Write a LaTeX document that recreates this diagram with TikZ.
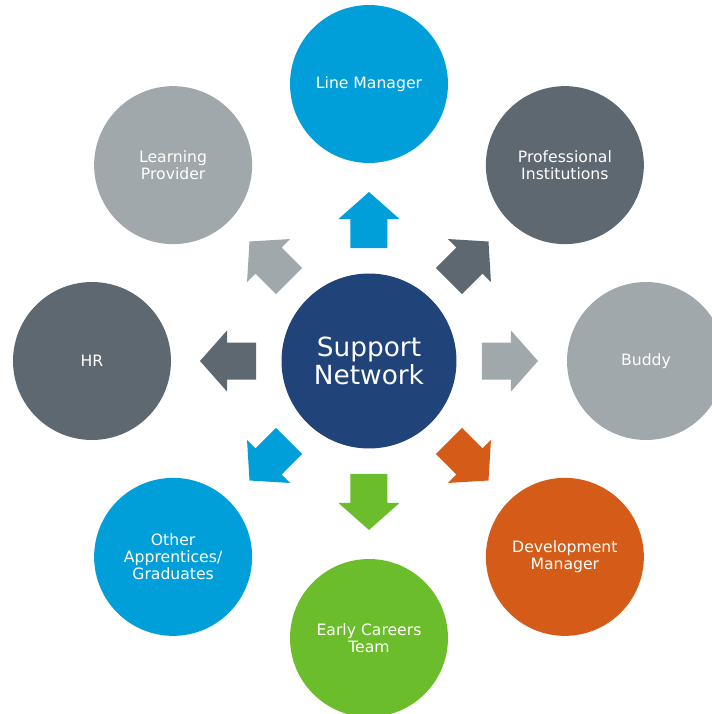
\documentclass[tikz,border=0pt]{standalone}
\usepackage{fontspec}
\setsansfont{DejaVu Sans}
\usetikzlibrary{calc}
\definecolor{netblue}{RGB}{0,159,218}
\definecolor{netdark}{RGB}{94,104,112}
\definecolor{netlight}{RGB}{161,168,171}
\definecolor{netorange}{RGB}{212,92,24}
\definecolor{netgreen}{RGB}{108,189,43}
\definecolor{netnavy}{RGB}{32,67,122}
\tikzset{
spoke/.style={circle,minimum size=3.16cm,inner sep=0pt,text=white,align=center,
font=\sffamily\fontsize{8.9}{9.8}\selectfont},
hub/.style={circle,minimum size=3.5cm,inner sep=0pt,text=white,align=center,
font=\sffamily\fontsize{15}{16}\selectfont},
pics/blockarrow/.style={code={\fill[#1] (-28,-18.5) -- (1,-18.5) -- (1,-30.5)
-- (28,0) -- (1,30.5) -- (1,18.5) -- (-28,18.5) -- cycle;}}
}
\begin{document}
\begin{tikzpicture}[x=0.02cm,y=0.02cm]
\useasboundingbox (-369,-353) rectangle (343,361);
\node[hub,fill=netnavy] (net) at (0,0) {Support\\Network};
\node[spoke,fill=netblue] (line) at (90:277) {Line Manager};
\node[spoke,fill=netdark] (prof) at (45:277) {Professional\\Institutions};
\node[spoke,fill=netlight] (buddy) at (0:277) {Buddy};
\node[spoke,fill=netorange] (dev) at (-45:277) {Development\\Manager};
\node[spoke,fill=netgreen] (early) at (-90:277) {Early Careers\\Team};
\node[spoke,fill=netblue] (other) at (-135:277) {Other\\Apprentices/\\Graduates};
\node[spoke,fill=netdark] (hr) at (180:277) {HR};
\node[spoke,fill=netlight] (learn) at (135:277) {Learning\\Provider};
\foreach \n/\a/\c in {line/90/netblue,prof/45/netdark,buddy/0/netlight,
dev/-45/netorange,early/-90/netgreen,other/-135/netblue,hr/180/netdark,
learn/135/netlight}
\pic[rotate=\a] at ($(net)!0.509!(\n)$) {blockarrow=\c};
\end{tikzpicture}
\end{document}
